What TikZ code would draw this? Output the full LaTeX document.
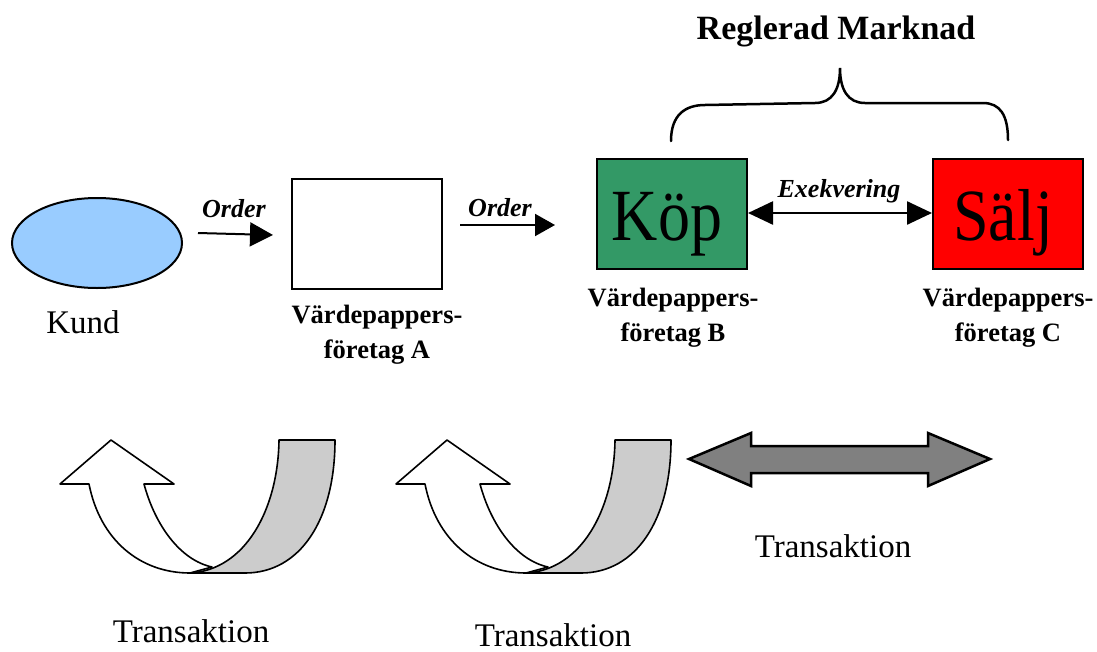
\documentclass[tikz,border=0pt]{standalone}
\usepackage{fontspec}
\setmainfont{Liberation Serif}
\usetikzlibrary{arrows.meta,calc,shapes.geometric}

\definecolor{kundblue}{RGB}{153,204,255}
\definecolor{kopgreen}{RGB}{51,153,102}
\definecolor{saljred}{RGB}{255,0,0}
\definecolor{bandgray}{RGB}{204,204,204}
\definecolor{dblgray}{RGB}{128,128,128}

\tikzset{
  firmbox/.style={draw=black, line width=2pt, minimum width=150pt, minimum height=110pt, inner sep=0pt},
  firmlabel/.style={font=\bfseries\fontsize{26.5}{35}\selectfont, align=center, anchor=base, inner sep=0pt},
  flowlabel/.style={font=\bfseries\itshape\fontsize{26}{30}\selectfont, anchor=base, inner sep=0pt},
  plainlabel/.style={font=\fontsize{33}{38}\selectfont, anchor=base, inner sep=0pt},
  bigword/.style={font=\fontsize{64}{70}\selectfont, anchor=base, inner sep=0pt},
  ribbonline/.style={draw=black, line width=1.6pt, line join=round},
}

\begin{document}
\begin{tikzpicture}[x=1pt, y=-1pt]
\useasboundingbox (0,0) rectangle (1097,651);

% participants
\node[ellipse, draw=black, line width=2pt, fill=kundblue, minimum width=170pt, minimum height=90pt, inner sep=0pt] (kund) at (97,243) {};
\node[firmbox, fill=white] (boxA) at (367,234) {};
\node[firmbox, fill=kopgreen] (boxB) at (672,214) {};
\node[firmbox, fill=saljred] (boxC) at (1008,214) {};

\node[bigword] (kop) at (667,240) {\scalebox{1}[1.15]{Köp}};
\node[bigword] (salj) at (1003,240) {\scalebox{1}[1.15]{Sälj}};

% captions (base anchor sits on the last line)
\node[plainlabel] (kundtxt) at (83,333) {Kund};
\node[firmlabel] (labA) at (377,358) {Värdepappers-\\företag A};
\node[firmlabel] (labB) at (673,341) {Värdepappers-\\företag B};
\node[firmlabel] (labC) at (1008,341) {Värdepappers-\\företag C};

% order flow
\draw[line width=2pt, -{Triangle[length=23pt,width=24pt]}]
  ($(kund.east)+(15,-10)$) -- ($(boxA.west)+(-18,1)$);
\node[flowlabel] (order1) at (234,217) {Order};
\draw[line width=2pt, -{Triangle[length=20pt,width=22pt]}]
  ($(boxA.east)+(17,-9)$) -- ($(boxB.west)+(-41,11)$);
\node[flowlabel] (order2) at (500,216) {Order};

% execution between B and C
\draw[line width=2.5pt, {Triangle[length=25pt,width=23pt]}-{Triangle[length=25pt,width=23pt]}]
  ($(boxB.east)+(0,-1)$) -- ($(boxC.west)+(0,-1)$);
\node[flowlabel] (exek) at (839,197) {Exekvering};

% regulated market brace
\draw[line width=2.5pt, line cap=round]
  (671,141) .. controls (671,115) and (685,105) .. (705,105)
  -- (815,103) .. controls (832,103) and (840,90) .. (840,68)
  .. controls (840,90) and (848,103) .. (865,103)
  -- (983,103) .. controls (1000,103) and (1008,115) .. (1008,140);
\node[font=\bfseries\fontsize{34}{40}\selectfont, anchor=base, inner sep=0pt] (market) at (836,39) {Reglerad Marknad};

% transaction symbols: two U-turn ribbons
\foreach \dx in {0,336} {
  \begin{scope}[xshift=\dx]
    \path[ribbonline, fill=bandgray]
      (279,440) -- (335,440) .. controls (335,520) and (300,573) .. (245,573)
      -- (190,573) .. controls (245,570) and (278,510) .. (279,440) -- cycle;
    \path[ribbonline, fill=white]
      (111,440) -- (174,484) -- (144,484) .. controls (155,525) and (180,560) .. (212,567)
      -- (190,573) .. controls (140,573) and (100,540) .. (89,484) -- (60,484) -- cycle;
  \end{scope}
}
\node[plainlabel] (trans1) at (191,642) {Transaktion};
\node[plainlabel] (trans2) at (553,646) {Transaktion};

% transaction symbol: double-headed block arrow
\path[draw=black, line width=2.5pt, line join=miter, fill=dblgray]
  (689,459) -- (751,433) -- (751,446) -- (928,446) -- (928,433) -- (990,459)
  -- (928,486) -- (928,473) -- (751,473) -- (751,486) -- cycle;
\node[plainlabel] (trans3) at (833,557) {Transaktion};
\end{tikzpicture}
\end{document}
